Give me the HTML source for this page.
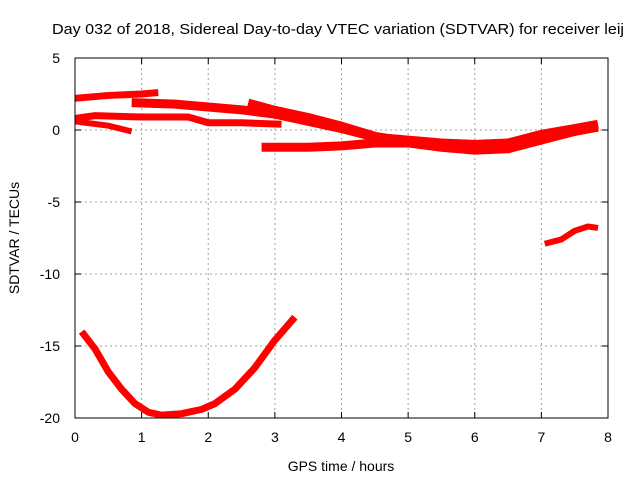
<!DOCTYPE html>
<html><head><meta charset="utf-8"><style>
body{margin:0;background:#fff;}
svg{display:block;font-family:"Liberation Sans",sans-serif;}
</style></head><body>
<svg id="chart" width="640" height="480" viewBox="0 0 640 480" xmlns="http://www.w3.org/2000/svg">
<text x="52" y="34" font-size="15" textLength="572" lengthAdjust="spacingAndGlyphs">Day 032 of 2018, Sidereal Day-to-day VTEC variation (SDTVAR) for receiver leij</text>
<g id="grid"></g>
<g id="series"></g>
<rect x="75" y="58" width="533" height="360" fill="none" stroke="#000" stroke-width="1"/>
<g id="ticks"></g>
<text x="341" y="471" font-size="14" text-anchor="middle">GPS time / hours</text>
<text transform="translate(19,238) rotate(-90)" font-size="14" text-anchor="middle">SDTVAR / TECUs</text>
</svg>
<script>
const xTicks=[0,1,2,3,4,5,6,7,8];
const yTicks=[5,0,-5,-10,-15,-20];
const seriesA=[[0,2.2],[0.5,2.4],[1,2.5],[1.25,2.6]];
const seriesB=[[0.85,1.9],[1.5,1.8],[2,1.6],[2.5,1.4],[3,1.1],[3.5,0.6],[4,0.1],[4.5,-0.5],[5,-0.7],[5.5,-0.9],[6,-1.0],[6.5,-0.9],[7,-0.3],[7.5,0.1],[7.85,0.4]];
const seriesC=[[2.6,1.9],[3,1.4],[3.5,0.9],[4,0.3],[4.5,-0.4],[5,-0.8]];
const seriesD=[[0,0.8],[0.3,1.0],[1,0.9],[1.7,0.9],[2,0.5],[2.5,0.5],[3.1,0.4]];
const seriesE=[[0,0.6],[0.5,0.3],[0.85,-0.1]];
const seriesF=[[2.8,-1.2],[3.5,-1.2],[4,-1.1],[4.5,-0.9],[5,-0.9],[5.5,-1.2],[6,-1.4],[6.5,-1.3],[7,-0.7],[7.5,-0.1],[7.85,0.2]];
const seriesG=[[7.05,-7.9],[7.3,-7.6],[7.5,-7.0],[7.7,-6.7],[7.85,-6.8]];
const seriesH=[[0.1,-14.0],[0.3,-15.2],[0.5,-16.8],[0.7,-18.0],[0.9,-19.0],[1.1,-19.6],[1.3,-19.8],[1.6,-19.7],[1.9,-19.4],[2.1,-19.0],[2.4,-18.0],[2.7,-16.5],[3.0,-14.6],[3.3,-13.0]];
const X=v=>75+v*(533/8), Y=v=>58+(5-v)*(360/25);
const NS='http://www.w3.org/2000/svg';
const grid=document.getElementById('grid'),ticks=document.getElementById('ticks'),ser=document.getElementById('series');
function mk(tag,attrs,parent){const e=document.createElementNS(NS,tag);for(const k in attrs)e.setAttribute(k,attrs[k]);parent.appendChild(e);return e;}
xTicks.forEach(t=>{
  const l=mk('line',{x1:X(t),x2:X(t),y1:58,y2:418,stroke:'#a0a0a0','stroke-dasharray':'2,3'},grid);
  
  
  const tk=mk('line',{x1:X(t),x2:X(t),y1:418,y2:412,stroke:'#000'},ticks);
  
  
  const tk2=mk('line',{x1:X(t),x2:X(t),y1:58,y2:64,stroke:'#000'},ticks);
  
  
  const tx=mk('text',{x:X(t),y:442,'font-size':14,'text-anchor':'middle'},ticks);
  tx.textContent=t;
  
  
});
yTicks.forEach(t=>{
  const l=mk('line',{x1:75,x2:608,y1:Y(t),y2:Y(t),stroke:'#a0a0a0','stroke-dasharray':'2,3'},grid);
  
  
  const tk=mk('line',{x1:75,x2:81,y1:Y(t),y2:Y(t),stroke:'#000'},ticks);
  
  
  const tk2=mk('line',{x1:602,x2:608,y1:Y(t),y2:Y(t),stroke:'#000'},ticks);
  
  
  const tx=mk('text',{x:60,y:Y(t)+5,'font-size':14,'text-anchor':'end'},ticks);
  tx.textContent=t;
  
  
});
[[seriesA,7],[seriesB,9],[seriesC,8],[seriesD,7],[seriesE,6],[seriesF,9],[seriesG,6],[seriesH,7]].forEach(([s,w],i)=>{
  const p=mk('polyline',{points:s.map(d=>X(d[0])+','+Y(d[1])).join(' '),fill:'none',stroke:'#ff0000','stroke-width':w,'stroke-linejoin':'round'},ser);
  
  
});
</script>
</body></html>
